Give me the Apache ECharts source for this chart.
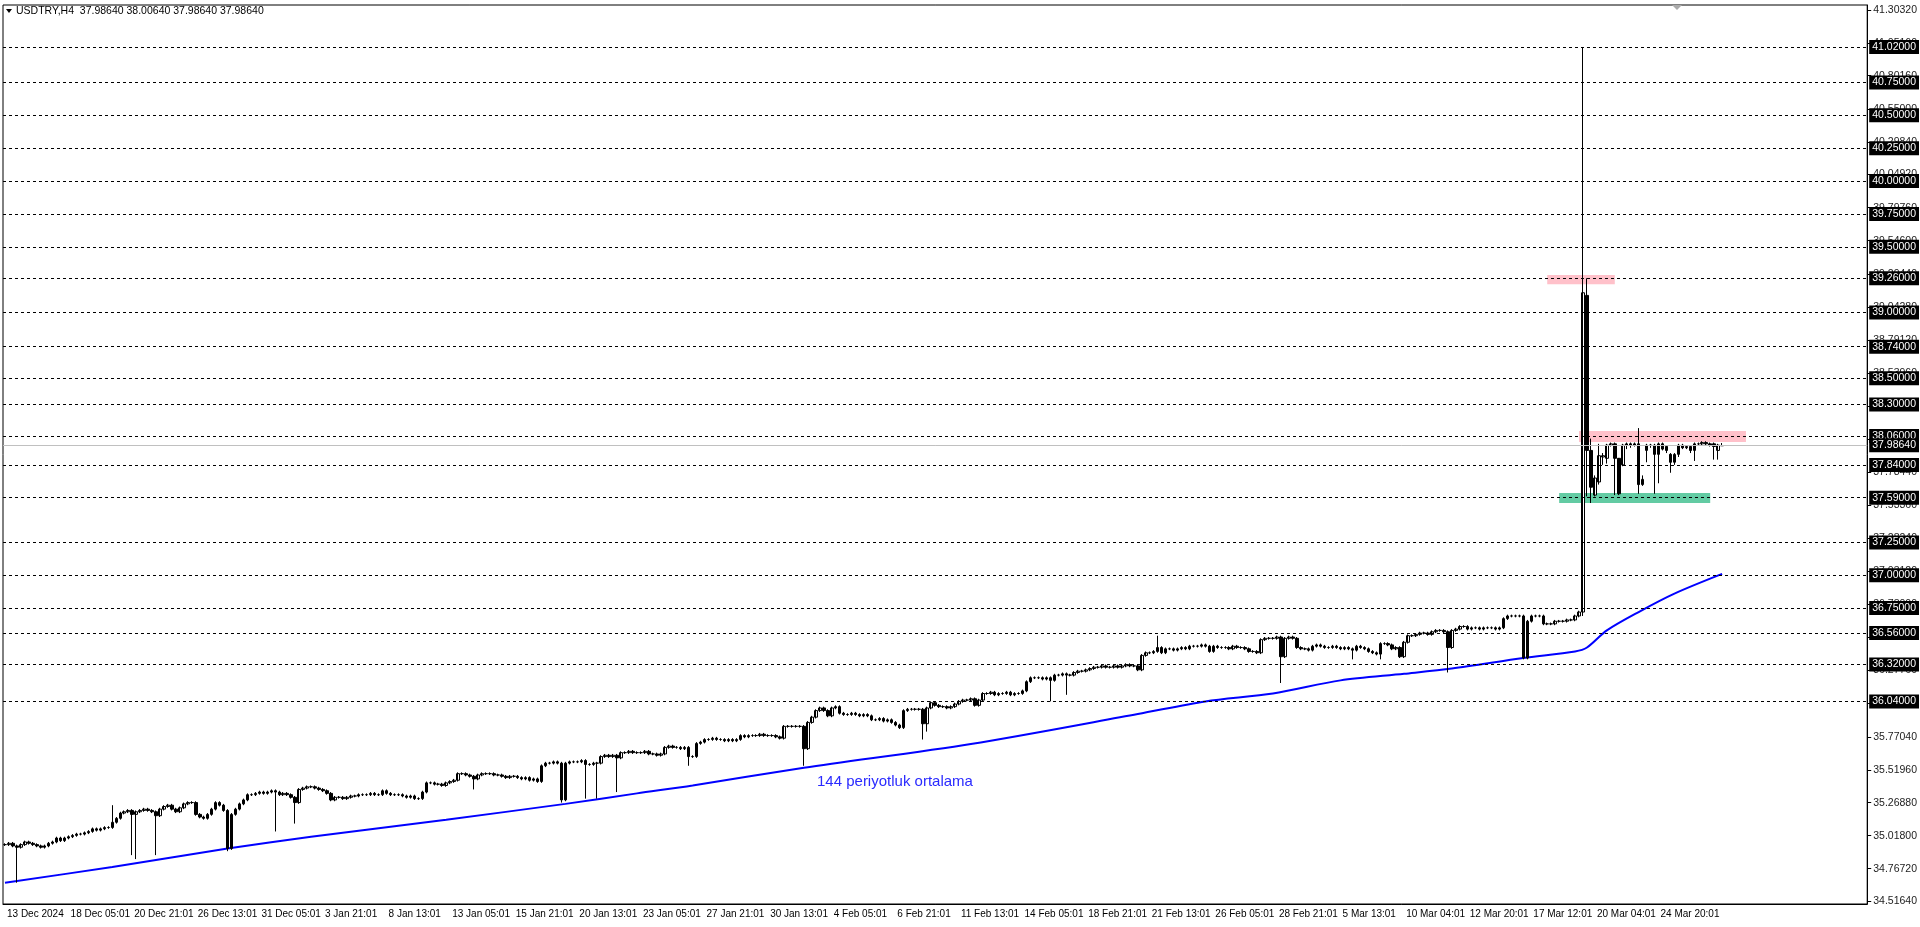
<!DOCTYPE html>
<html><head><meta charset="utf-8">
<script src="https://cdn.jsdelivr.net/npm/echarts@6/dist/echarts.min.js"></script>
<style>html,body{margin:0;padding:0;background:#fff}#c{width:1920px;height:927px}</style>
</head><body><div id="c"></div>
<script>
// Closes for bars 0..396 (H4)
const closes = [
34.95,34.96,34.94,34.93,34.95,34.97,34.96,34.95,34.94,34.93,
34.94,34.96,34.97,35.00,34.98,35.00,35.01,35.02,35.03,35.03,
35.04,35.05,35.07,35.06,35.07,35.08,35.08,35.12,35.15,35.19,
35.20,35.21,35.18,35.20,35.21,35.22,35.21,35.20,35.17,35.22,
35.24,35.25,35.22,35.20,35.23,35.26,35.27,35.27,35.18,35.16,
35.15,35.18,35.22,35.27,35.25,35.21,34.92,35.18,35.22,35.26,
35.29,35.33,35.33,35.34,35.35,35.34,35.35,35.36,35.35,35.33,
35.34,35.33,35.31,35.27,35.37,35.38,35.39,35.39,35.38,35.37,
35.36,35.34,35.29,35.31,35.31,35.30,35.31,35.32,35.32,35.33,
35.33,35.33,35.34,35.33,35.33,35.36,35.34,35.33,35.33,35.33,
35.32,35.31,35.32,35.30,35.30,35.35,35.42,35.42,35.41,35.41,
35.40,35.42,35.43,35.44,35.49,35.49,35.48,35.47,35.45,35.48,
35.49,35.49,35.49,35.48,35.48,35.47,35.46,35.47,35.47,35.46,
35.45,35.46,35.44,35.45,35.43,35.55,35.57,35.57,35.58,35.57,
35.29,35.57,35.58,35.58,35.58,35.59,35.56,35.56,35.57,35.57,
35.62,35.63,35.62,35.63,35.61,35.65,35.65,35.66,35.65,35.65,
35.65,35.66,35.64,35.64,35.63,35.64,35.69,35.70,35.69,35.69,
35.68,35.69,35.62,35.62,35.72,35.73,35.75,35.75,35.76,35.75,
35.75,35.74,35.75,35.74,35.75,35.78,35.77,35.78,35.78,35.78,
35.79,35.78,35.78,35.78,35.77,35.76,35.85,35.85,35.85,35.85,
35.85,35.68,35.88,35.92,35.97,35.99,35.97,35.93,35.99,36.00,
35.95,35.94,35.94,35.95,35.94,35.93,35.94,35.93,35.90,35.90,
35.91,35.89,35.90,35.88,35.86,35.84,35.97,35.98,35.98,35.98,
35.98,35.87,35.99,36.03,36.01,36.00,36.00,35.99,36.00,36.02,
36.04,36.05,36.05,36.06,36.01,36.05,36.10,36.10,36.11,36.09,
36.10,36.10,36.11,36.09,36.10,36.10,36.12,36.19,36.22,36.22,
36.22,36.21,36.22,36.20,36.24,36.24,36.25,36.24,36.24,36.26,
36.27,36.27,36.28,36.29,36.30,36.30,36.31,36.30,36.30,36.31,
36.30,36.31,36.32,36.31,36.31,36.28,36.39,36.41,36.41,36.42,
36.45,36.41,36.44,36.44,36.43,36.44,36.45,36.44,36.46,36.46,
36.46,36.47,36.46,36.42,36.46,36.45,36.45,36.45,36.44,36.46,
36.45,36.45,36.44,36.42,36.42,36.41,36.51,36.52,36.52,36.52,
36.53,36.38,36.52,36.53,36.52,36.45,36.44,36.44,36.43,36.46,
36.47,36.46,36.45,36.45,36.46,36.45,36.44,36.45,36.44,36.43,
36.46,36.45,36.44,36.42,36.41,36.40,36.48,36.48,36.47,36.44,
36.45,36.38,36.49,36.54,36.54,36.55,36.56,36.56,36.55,36.57,
36.58,36.58,36.57,36.45,36.58,36.59,36.61,36.61,36.59,36.60,
36.60,36.59,36.60,36.60,36.60,36.59,36.60,36.67,36.69,36.69,
36.69,36.69,36.37,36.65,36.69,36.69,36.69,36.63,36.63,36.63,
36.65,36.65,36.65,36.66,36.66,36.69,36.72];
// Long wicks [bar, low or high]
const lowWicks = [[3,34.66],[32,34.87],[33,34.84],[38,34.87],[56,34.90],[68,35.05],[73,35.11],[118,35.37],
 [140,35.27],[146,35.30],[149,35.30],[154,35.35],[172,35.55],[201,35.55],[231,35.75],[232,35.81],
 [263,36.04],[267,36.09],[321,36.18],[339,36.36],[346,36.36],[363,36.26],[382,36.36]];
const highWicks = [[27,35.25],[290,36.54]];
// Last bars 397..432 as [open, close, high, low]
const lastBars = [
[36.72,39.15,41.02,36.69],[39.13,37.95,39.26,37.60],[37.95,37.67,38.04,37.55],[37.61,37.74,37.76,37.60],
[37.71,37.91,38.00,37.69],[37.90,37.91,37.93,37.84],[37.89,37.99,38.00,37.85],[37.99,38.00,38.01,37.98],
[38.00,37.89,38.01,37.61],[37.89,37.62,37.89,37.61],[37.84,37.99,38.00,37.83],[37.99,38.00,38.01,37.96],
[38.00,37.99,38.01,37.97],[37.99,38.00,38.01,37.98],[38.00,37.69,38.12,37.62],[37.69,37.73,37.76,37.68],
[37.95,37.99,38.00,37.86],[37.99,37.99,38.00,37.97],[37.99,37.92,38.00,37.62],[37.92,38.00,38.01,37.70],
[38.00,37.96,38.01,37.95],[37.98,37.95,37.99,37.93],[37.92,37.86,37.93,37.78],[37.86,37.92,37.93,37.84],
[37.92,37.99,38.00,37.90],[37.99,37.97,38.00,37.96],[37.97,37.98,37.99,37.96],[37.98,37.95,37.99,37.93],
[37.95,38.00,38.01,37.87],[38.00,38.00,38.01,37.99],[38.00,38.01,38.02,37.99],[38.01,38.00,38.02,37.99],
[38.00,37.99,38.01,37.98],[38.00,37.98,38.01,37.88],[37.95,37.99,38.00,37.88],[37.9864,37.9864,38.0064,37.9864]];
// 144-period average, read at sample bars
const maPoints = [[0,34.66],[27,34.78],[56,34.92],[77,35.01],[111,35.14],[141,35.26],[159,35.34],[173,35.40],[201,35.535],[243,35.716],
 [285,35.944],[302,36.04],[319,36.10],[336,36.20],[352,36.25],[364,36.29],[382,36.37],[395,36.42],[398,36.45],[403,36.58],[411,36.72],[420,36.86],[432,37.01]];
const dateLabels = ['13 Dec 2024','18 Dec 05:01','20 Dec 21:01','26 Dec 13:01','31 Dec 05:01','3 Jan 21:01','8 Jan 13:01',
 '13 Jan 05:01','15 Jan 21:01','20 Jan 13:01','23 Jan 05:01','27 Jan 21:01','30 Jan 13:01','4 Feb 05:01','6 Feb 21:01',
 '11 Feb 13:01','14 Feb 05:01','18 Feb 21:01','21 Feb 13:01','26 Feb 05:01','28 Feb 21:01','5 Mar 13:01','10 Mar 04:01',
 '12 Mar 20:01','17 Mar 12:01','20 Mar 04:01','24 Mar 20:01'];
const levels = [41.02,40.75,40.50,40.25,40.00,39.75,39.50,39.26,39.00,38.74,38.50,38.30,38.06,37.84,37.59,37.25,37.00,36.75,36.56,36.32,36.04];
const tickLabels = [41.30320,41.05160,40.80160,40.55000,40.29840,40.04920,39.79760,39.54600,39.29440,39.04280,38.79120,38.53960,
 38.28800,38.03640,37.78440,37.53360,37.28240,37.03120,36.78000,36.52880,36.27760,36.02640,35.77040,35.51960,35.26880,35.01800,34.76720,34.51640];
const currentPrice = 37.98640;

const totalSlots = 469;
const cats = Array.from({length: totalSlots}, (_, i) => i);
const ohlc = [];
for (let i = 0; i < closes.length; i++) {
  const o = i === 0 ? closes[0] : closes[i-1], c = closes[i];
  ohlc.push([o, c, Math.max(o,c)+0.01, Math.min(o,c)-0.01]);
}
lowWicks.forEach(([i,v]) => { ohlc[i][3] = v; });
highWicks.forEach(([i,v]) => { ohlc[i][2] = v; });
lastBars.forEach(b => ohlc.push([b[0], b[1], b[2], b[3]]));
const maData = cats.map(() => null);
maPoints.forEach(([i,v]) => { maData[i] = v; });

const FONT = 'Liberation Sans';
const chart = echarts.init(document.getElementById('c'));
const boxLabel = v => ({show:true, position:'end', formatter: v.toFixed(5), color:'#fff', backgroundColor:'#000',
  fontFamily:FONT, fontSize:10.5, padding:[2,3,1,3], distance:2});
chart.setOption({
  animation:false,
  backgroundColor:'#fff',
  grid:{left:3, right:52, top:5, bottom:23, show:true, borderColor:'#000', borderWidth:1},
  xAxis:{type:'category', data:cats, boundaryGap:true,
    axisLine:{lineStyle:{color:'#000'}}, axisTick:{interval:15, length:4, lineStyle:{color:'#000'}},
    axisLabel:{interval:15, hideOverlap:false, showMinLabel:true, color:'#000', fontFamily:FONT, fontSize:10, margin:5, align:'left', padding:[0,0,0,2],
      formatter:(v,i)=> dateLabels[i/16] || ''}, splitLine:{show:false}},
  yAxis:{type:'value', position:'right', min:34.498, max:41.34, scale:true,
    axisLine:{show:true, lineStyle:{color:'#000'}},
    axisTick:{show:true, customValues:tickLabels, length:4, lineStyle:{color:'#000'}},
    axisLabel:{customValues:tickLabels, color:'#222', fontFamily:FONT, fontSize:10.5, margin:6,
      formatter:v=>v.toFixed(5)}, splitLine:{show:false}},
  series:[
    {type:'candlestick', data:ohlc, barWidth:3,
     itemStyle:{color:'#fff', color0:'#000', borderColor:'#000', borderColor0:'#000', borderWidth:1},
     markLine:{symbol:'none', silent:true, animation:false,
       data: levels.map(v=>({yAxis:v, lineStyle:{type:[3,3], color:'#000', width:1}, label:boxLabel(v)}))
         .concat([{yAxis:currentPrice, lineStyle:{type:'solid', color:'#c0c0c0', width:1}, label:boxLabel(currentPrice)}])},
     markArea:{silent:true, data:[
       [{coord:[388,39.285], itemStyle:{color:'rgba(255,182,193,0.85)'}},{coord:[405,39.215]}],
       [{coord:[396,38.098], itemStyle:{color:'rgba(255,182,193,0.85)'}},{coord:[438,38.014]}],
       [{coord:[391,37.626], itemStyle:{color:'rgba(60,190,140,0.8)'}},{coord:[429,37.55]}]
     ]}
    },
    {type:'line', data:maData, connectNulls:true, showSymbol:false, smooth:0.3, z:1,
     lineStyle:{color:'#0000ff', width:2}}
  ],
  graphic:[
    {type:'text', left:817, top:774, style:{text:'144 periyotluk ortalama', fill:'#2a2aff', font:'15px "Liberation Sans"'}},
    {type:'polygon', shape:{points:[[6,9],[12,9],[9,13]]}, style:{fill:'#000'}},
    {type:'text', left:16, top:6, style:{text:'USDTRY,H4  37.98640 38.00640 37.98640 37.98640', fill:'#000', font:'10.5px "Liberation Sans"'}},
    {type:'polygon', shape:{points:[[1672,5],[1682,5],[1677,10]]}, style:{fill:'#aaa'}}
  ]
});
</script></body></html>
